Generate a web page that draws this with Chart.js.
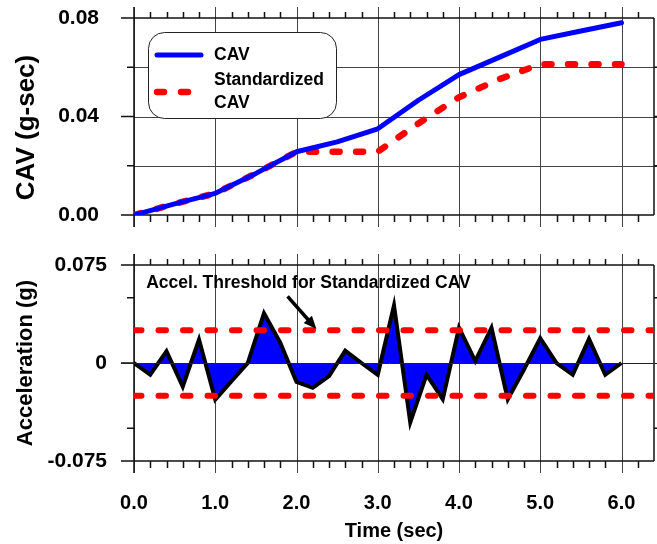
<!DOCTYPE html>
<html>
<head>
<meta charset="utf-8">
<script src="https://cdn.jsdelivr.net/npm/chart.js@4.4.1/dist/chart.umd.min.js"></script>
<style>
  html, body { margin: 0; padding: 0; background: #fff; }
  #wrap { position: relative; width: 657px; height: 544px; }
  #wrap canvas { position: absolute; left: 0; }
</style>
</head>
<body>
<div id="wrap">
  <canvas id="cavChart" width="657" height="240" style="top:0"></canvas>
  <canvas id="accChart" width="657" height="304" style="top:240px"></canvas>
</div>
<script>
// CAV (g-sec)
const cavTime = [0, 0.5, 1, 1.5, 2, 2.5, 3, 3.5, 4, 4.5, 5, 5.5, 6];
const cavValues = [0, 0.0045, 0.0088, 0.0169, 0.0257, 0.0297, 0.0350, 0.0466, 0.0570, 0.0641, 0.0713, 0.0747, 0.0781];
const stdCavValues = [0, 0.0045, 0.0088, 0.0169, 0.0257, 0.0257, 0.0257, 0.0372, 0.0478, 0.0552, 0.0612, 0.0612, 0.0612];

// acceleration (g)
const accTime = [0, 0.2, 0.4, 0.6, 0.8, 1.0, 1.2, 1.4, 1.6, 1.8, 2.0, 2.2, 2.4, 2.6, 2.8, 3.0,
                 3.2, 3.4, 3.6, 3.8, 4.0, 4.2, 4.4, 4.6, 4.8, 5.0, 5.2, 5.4, 5.6, 5.8, 6.0];
const accValues = [0, -0.009, 0.009, -0.018, 0.018, -0.028, -0.014, 0, 0.038, 0.0156, -0.0145, -0.019, -0.010, 0.0095, 0, -0.009,
                   0.044, -0.0455, -0.009, -0.0278, 0.027, 0.0015, 0.027, -0.0278, -0.005, 0.019, 0, -0.009, 0.0185, -0.009, 0];
const threshold = 0.025;

const timeTicks = [0, 1, 2, 3, 4, 5, 6];
const cavTicks = [0, 0.04, 0.08];
const cavGrid = [0.02, 0.04, 0.06];
const accTicks = [-0.075, 0, 0.075];
const accMinorTicks = [-0.05, 0.05];

// annotation in data units: [time, accel]
const noteText = 'Accel. Threshold for Standardized CAV';
const notePos = [0.15, 0.061];
const arrowFrom = [1.89, 0.051];
const arrowTo = [2.245, 0.026];

Chart.defaults.font.family = 'Arial, "Liberation Sans", sans-serif';
Chart.defaults.color = '#000';

const BLUE = '#0000ff';
const RED = '#ff0000';
const LINE = '#111';
const GRID = '#444';

function xy(xs, ys) {
  return xs.map((x, i) => ({ x: x, y: ys[i] }));
}

// frame, grid and tick marks drawn like the original plotting program
function framePlugin(opt) {
  return {
    id: 'frame',
    beforeDatasetsDraw(chart) {
      const { ctx, chartArea: a, scales: { x, y } } = chart;
      ctx.save();
      ctx.lineWidth = 1;
      ctx.strokeStyle = GRID;
      ctx.beginPath();
      (opt.gridY || []).forEach(v => {
        const py = Math.round(y.getPixelForValue(v)) + 0.5;
        ctx.moveTo(a.left, py);
        ctx.lineTo(a.right + 5, py);
      });
      timeTicks.forEach(t => {
        const px = Math.round(x.getPixelForValue(t)) + 0.5;
        ctx.moveTo(px, a.top - 11);
        ctx.lineTo(px, a.bottom + 12);
      });
      ctx.stroke();

      ctx.strokeStyle = LINE;
      ctx.lineWidth = 1.5;
      ctx.beginPath();
      // box
      ctx.moveTo(a.left, a.top); ctx.lineTo(a.right, a.top);
      ctx.moveTo(a.left, a.bottom); ctx.lineTo(a.right, a.bottom);
      ctx.moveTo(a.left, a.top - 11); ctx.lineTo(a.left, a.bottom + 12);
      ctx.moveTo(a.right, a.top); ctx.lineTo(a.right, a.bottom);
      // minor time ticks, outward on top and bottom
      for (let t = 0.2; t < 6.39; t += 0.2) {
        if (Math.abs(t - Math.round(t)) < 0.01) continue;
        const px = Math.round(x.getPixelForValue(t)) + 0.5;
        ctx.moveTo(px, a.top); ctx.lineTo(px, a.top - 6);
        ctx.moveTo(px, a.bottom); ctx.lineTo(px, a.bottom + 7);
      }
      // y ticks
      opt.longY.forEach(v => {
        const py = y.getPixelForValue(v);
        ctx.moveTo(a.left - 13, py); ctx.lineTo(a.left, py);
      });
      opt.shortY.forEach(v => {
        const py = y.getPixelForValue(v);
        ctx.moveTo(a.left - 7, py); ctx.lineTo(a.left, py);
      });
      opt.rightY.forEach(v => {
        const py = y.getPixelForValue(v);
        ctx.moveTo(a.right, py); ctx.lineTo(a.right + 5, py);
      });
      ctx.stroke();
      ctx.restore();
    },
    afterDraw(chart) {
      const { ctx, chartArea: a } = chart;
      ctx.save();
      ctx.fillStyle = '#000';
      ctx.font = 'bold ' + opt.titleSize + 'px Arial, "Liberation Sans", sans-serif';
      ctx.textAlign = 'center';
      ctx.textBaseline = 'middle';
      ctx.translate(opt.titleX, (a.top + a.bottom) / 2 + opt.titleShift);
      ctx.rotate(-Math.PI / 2);
      ctx.fillText(opt.title, 0, 0);
      ctx.restore();
    }
  };
}

const legendPlugin = {
  id: 'cavLegend',
  afterDatasetsDraw(chart) {
    const { ctx, chartArea: a } = chart;
    const bx = a.left + 14, by = a.top + 14;
    ctx.save();
    ctx.fillStyle = '#fff';
    ctx.strokeStyle = '#222';
    ctx.lineWidth = 1;
    ctx.beginPath();
    ctx.roundRect(bx + 0.5, by + 0.5, 188, 86, 16);
    ctx.fill();
    ctx.stroke();

    ctx.lineCap = 'round';
    ctx.strokeStyle = BLUE;
    ctx.lineWidth = 5;
    ctx.beginPath();
    ctx.moveTo(bx + 9, by + 23); ctx.lineTo(bx + 53, by + 23);
    ctx.stroke();

    ctx.strokeStyle = RED;
    ctx.lineWidth = 6.5;
    ctx.setLineDash([7, 17]);
    ctx.beginPath();
    ctx.moveTo(bx + 9, by + 60); ctx.lineTo(bx + 42, by + 60);
    ctx.stroke();
    ctx.setLineDash([]);

    ctx.fillStyle = '#000';
    ctx.font = 'bold 17.5px Arial, "Liberation Sans", sans-serif';
    ctx.textBaseline = 'middle';
    ctx.fillText('CAV', bx + 66, by + 23);
    ctx.fillText('Standardized', bx + 66, by + 48);
    ctx.fillText('CAV', bx + 66, by + 71);
    ctx.restore();
  }
};

const notePlugin = {
  id: 'thresholdNote',
  afterDatasetsDraw(chart) {
    const { ctx, chartArea: a, scales: { x, y } } = chart;
    ctx.save();
    // zero line
    ctx.strokeStyle = '#222';
    ctx.lineWidth = 1;
    const py0 = Math.round(y.getPixelForValue(0)) + 0.5;
    ctx.beginPath();
    ctx.moveTo(a.left - 13, py0); ctx.lineTo(a.right + 5, py0);
    ctx.stroke();

    ctx.fillStyle = '#000';
    ctx.font = 'bold 17.5px Arial, "Liberation Sans", sans-serif';
    ctx.textBaseline = 'middle';
    ctx.fillText(noteText, x.getPixelForValue(notePos[0]), y.getPixelForValue(notePos[1]));

    const x1 = x.getPixelForValue(arrowFrom[0]), y1 = y.getPixelForValue(arrowFrom[1]);
    const x2 = x.getPixelForValue(arrowTo[0]), y2 = y.getPixelForValue(arrowTo[1]);
    const ang = Math.atan2(y2 - y1, x2 - x1);
    const head = 13;
    ctx.strokeStyle = '#000';
    ctx.lineWidth = 3.5;
    ctx.beginPath();
    ctx.moveTo(x1, y1);
    ctx.lineTo(x2 - head * 0.8 * Math.cos(ang), y2 - head * 0.8 * Math.sin(ang));
    ctx.stroke();
    ctx.beginPath();
    ctx.moveTo(x2, y2);
    ctx.lineTo(x2 - head * Math.cos(ang) + 5.5 * Math.sin(ang), y2 - head * Math.sin(ang) - 5.5 * Math.cos(ang));
    ctx.lineTo(x2 - head * Math.cos(ang) - 5.5 * Math.sin(ang), y2 - head * Math.sin(ang) + 5.5 * Math.cos(ang));
    ctx.closePath();
    ctx.fill();

    // x axis title
    ctx.font = 'bold 20px Arial, "Liberation Sans", sans-serif';
    ctx.textAlign = 'center';
    ctx.fillText('Time (sec)', (a.left + a.right) / 2, a.bottom + 70);
    ctx.restore();
  }
};

const yTickFont = { size: 21, weight: 'bold' };
const xTickFont = { size: 20, weight: 'bold' };

// label offsets come from tickLength (ticks themselves are hidden), padding stays 0
// so Chart.js does not shrink the plot area
function hiddenGrid(len) {
  return { display: false, drawTicks: true, tickLength: len };
}

new Chart(document.getElementById('cavChart'), {
  type: 'line',
  data: {
    datasets: [
      {
        label: 'CAV',
        data: xy(cavTime, cavValues),
        borderColor: BLUE,
        borderWidth: 5,
        pointRadius: 0,
        borderCapStyle: 'round',
        borderJoinStyle: 'round',
        tension: 0
      },
      {
        label: 'Standardized CAV',
        data: xy(cavTime, stdCavValues),
        borderColor: RED,
        borderWidth: 6.5,
        borderDash: [7, 16.5],
        borderCapStyle: 'round',
        pointRadius: 0,
        tension: 0
      }
    ]
  },
  options: {
    responsive: false,
    animation: false,
    devicePixelRatio: 1,
    layout: { padding: { top: 18, right: 3, bottom: 25, left: 0 } },
    plugins: { legend: { display: false }, tooltip: { enabled: false } },
    scales: {
      x: { type: 'linear', min: 0, max: 6.4, display: false },
      y: {
        min: 0, max: 0.08,
        afterFit: s => { s.width = 134; },
        afterBuildTicks: s => { s.ticks = cavTicks.map(v => ({ value: v })); },
        grid: hiddenGrid(35),
        border: { display: false },
        ticks: { font: yTickFont, padding: 0, callback: v => v.toFixed(2) }
      }
    }
  },
  plugins: [
    framePlugin({ gridY: cavGrid, longY: cavTicks, shortY: [0.02, 0.06], rightY: [0.02, 0.04, 0.06],
                  title: 'CAV (g-sec)', titleSize: 26, titleX: 27, titleShift: 11 }),
    legendPlugin
  ]
});

new Chart(document.getElementById('accChart'), {
  type: 'line',
  data: {
    datasets: [
      {
        label: 'upper threshold',
        data: [{ x: 0, y: threshold }, { x: 6.4, y: threshold }],
        borderColor: RED,
        borderWidth: 6,
        borderDash: [7.5, 17],
        borderCapStyle: 'round',
        pointRadius: 0
      },
      {
        label: 'lower threshold',
        data: [{ x: 0, y: -threshold }, { x: 6.4, y: -threshold }],
        borderColor: RED,
        borderWidth: 6,
        borderDash: [7.5, 17],
        borderCapStyle: 'round',
        pointRadius: 0
      },
      {
        label: 'Acceleration',
        data: xy(accTime, accValues),
        borderColor: '#000',
        backgroundColor: BLUE,
        borderWidth: 4,
        borderJoinStyle: 'miter',
        fill: 'origin',
        pointRadius: 0,
        tension: 0
      }
    ]
  },
  options: {
    responsive: false,
    animation: false,
    devicePixelRatio: 1,
    layout: { padding: { top: 25, right: 3, bottom: 0, left: 0 } },
    plugins: { legend: { display: false }, tooltip: { enabled: false } },
    scales: {
      x: {
        type: 'linear', min: 0, max: 6.4,
        afterFit: s => { s.height = 83; },
        afterBuildTicks: s => { s.ticks = timeTicks.map(v => ({ value: v })); },
        grid: hiddenGrid(30),
        border: { display: false },
        ticks: { font: xTickFont, padding: 0, maxRotation: 0, callback: v => v.toFixed(1) }
      },
      y: {
        min: -0.075, max: 0.075,
        afterFit: s => { s.width = 134; },
        afterBuildTicks: s => { s.ticks = accTicks.map(v => ({ value: v })); },
        grid: hiddenGrid(27),
        border: { display: false },
        ticks: { font: yTickFont, padding: 0, callback: v => (v === 0 ? '0' : v.toFixed(3)) }
      }
    }
  },
  plugins: [
    framePlugin({ gridY: [], longY: accTicks, shortY: accMinorTicks, rightY: [0.05, -0.05],
                  title: 'Acceleration (g)', titleSize: 22, titleX: 26, titleShift: 0 }),
    notePlugin
  ]
});
</script>
</body>
</html>
